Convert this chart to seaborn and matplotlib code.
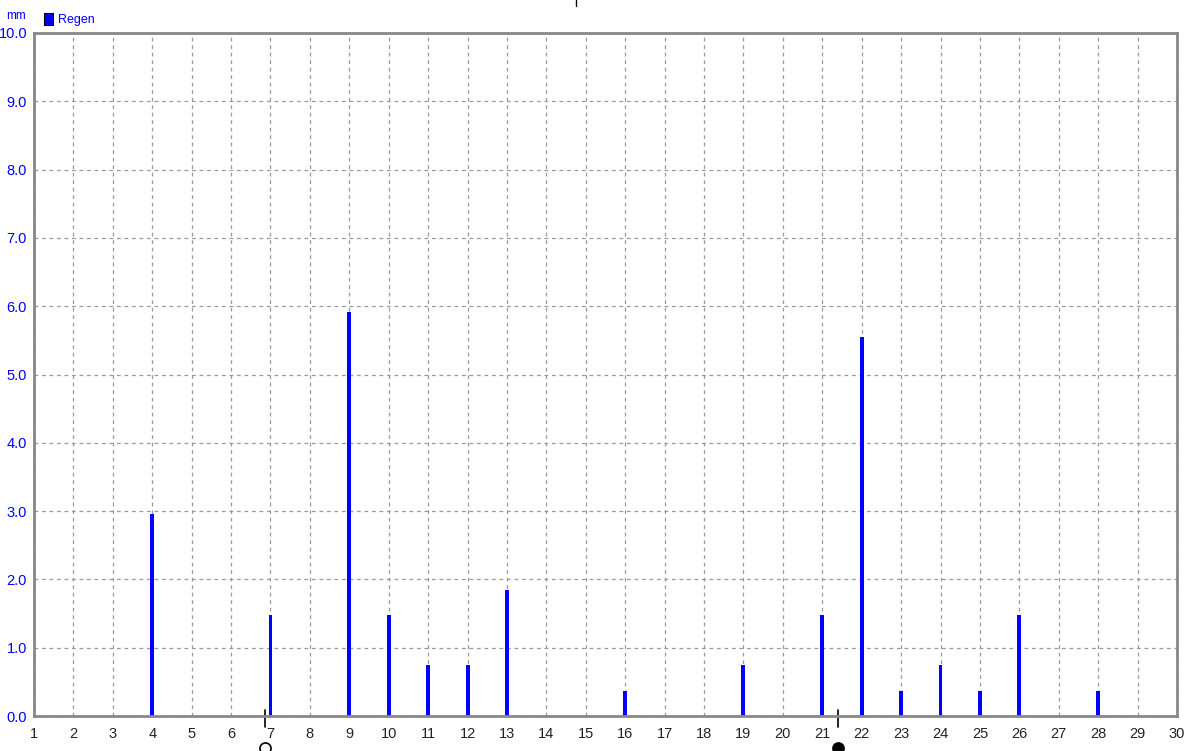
import numpy as np
import pandas as pd
import matplotlib
matplotlib.use("Agg")
import matplotlib.pyplot as plt
import seaborn as sns
from matplotlib.patches import Rectangle

# daily rain (mm), days of the month
days = [4, 7, 9, 10, 11, 12, 13, 16, 19, 21, 22, 23, 24, 25, 26, 28]
rain = [2.96, 1.48, 5.92, 1.48, 0.74, 0.74, 1.85, 0.37, 0.74, 1.48, 5.55, 0.37, 0.74, 0.37, 1.48, 0.37]
x_ticks = list(range(1, 31))
y_ticks = [0.0, 1.0, 2.0, 3.0, 4.0, 5.0, 6.0, 7.0, 8.0, 9.0, 10.0]
full_moon = 6.86
new_moon = 21.4

sns.set_style("white")
plt.rcParams['font.family'] = ['Liberation Sans', 'DejaVu Sans']

df = pd.DataFrame({"day": days, "mm": rain})

fig = plt.figure(figsize=(11.87, 7.51), dpi=100)
ax = fig.add_axes([34 / 1187, 35 / 751, 1143 / 1187, 683 / 751])

sns.barplot(data=df, x="day", y="mm", native_scale=True, width=0.1,
            color="#0000ff", saturation=1, linewidth=0, ax=ax)

ax.set_xlim(1, 30)
ax.set_ylim(0, 10)
ax.set_xticks(x_ticks)
ax.set_xticklabels([str(t) for t in x_ticks], fontsize=10.5, color="#222222")
ax.set_yticks(y_ticks)
ax.set_yticklabels([f"{t:.1f}" for t in y_ticks], fontsize=10.5, color="#0000ff")
ax.tick_params(axis="both", length=3, width=1, color="#888888", pad=2)
ax.tick_params(axis="x", pad=5)
ax.set_xlabel("")
ax.set_ylabel("")
ax.grid(True, linestyle=(0, (3, 3)), color="#999999", linewidth=0.9)
ax.set_axisbelow(True)
for sp in ax.spines.values():
    sp.set_color("#888888")
    sp.set_linewidth(2)

# unit and legend
fig.text(6 / 1187, 1 - 16 / 751, "mm", color="#0000ff", fontsize=8.5, va="center")
fig.patches.append(Rectangle((44 / 1187, 1 - 25 / 751), 9 / 1187, 12 / 751,
                             transform=fig.transFigure, facecolor="#0000ff",
                             edgecolor="black", linewidth=0.8))
fig.text(58 / 1187, 1 - 20 / 751, "Regen", color="#0000ff", fontsize=9, va="center")

# moon phase markers below the axis
for xm, filled in [(full_moon, False), (new_moon, True)]:
    ax.plot([xm, xm], [-0.16, 0.09], color="black", lw=1.2, clip_on=False)
    ax.plot([xm], [-0.47], marker="o", ms=8,
            mfc="black" if filled else "white", mec="black", mew=1.2,
            clip_on=False)

# small mark above the plot
fig.add_artist(plt.Line2D([576 / 1187, 576 / 1187], [1, 1 - 6 / 751],
                          color="black", lw=1, transform=fig.transFigure))

fig.savefig("out.png", dpi=100)
